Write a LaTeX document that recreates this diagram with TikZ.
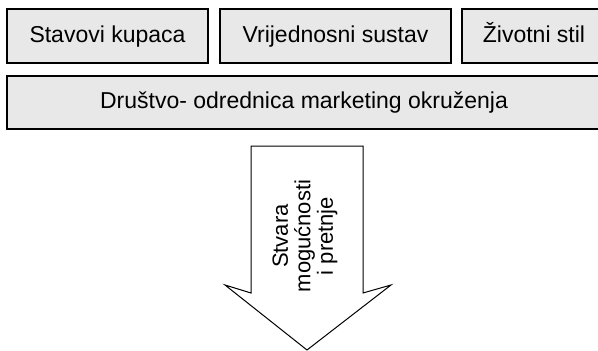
\documentclass[tikz,border=0pt]{standalone}
\usepackage{fontspec}
\setmainfont{Liberation Sans}
\definecolor{boxfill}{HTML}{E8E8E8}
\begin{document}
\begin{tikzpicture}[x=1pt,y=-1pt,
  box/.style={draw=black, line width=1.6pt, fill=boxfill, inner sep=0pt,
    minimum height=54pt, text height=17pt, text depth=5pt,
    font=\fontsize{23}{26}\selectfont},
  bigarrow/.style={draw=black, line width=1pt, fill=white, line join=miter}]
\useasboundingbox (0,0) rectangle (598,351);
\node[box, minimum width=201pt] (b1) at (107.5,36) {Stavovi kupaca};
\node[box, minimum width=231pt] (b2) at (335.5,36) {Vrijednosni sustav};
\node[box, minimum width=144pt] (b3) at (534,36) {Životni stil};
\node[box, minimum width=594pt, minimum height=53pt] (b4) at (304,102.5) {Društvo- odrednica marketing okruženja};
\draw[bigarrow] (251,146) -- (363,146) -- (363,293) -- (391,285) -- (307,350) -- (225,285) -- (251,293) -- cycle;
\node[rotate=90, align=center, inner sep=0pt, font=\fontsize{22}{22.5}\selectfont] (t) at (305,236) {Stvara\\mogućnosti\\i pretnje};
\end{tikzpicture}
\end{document}
